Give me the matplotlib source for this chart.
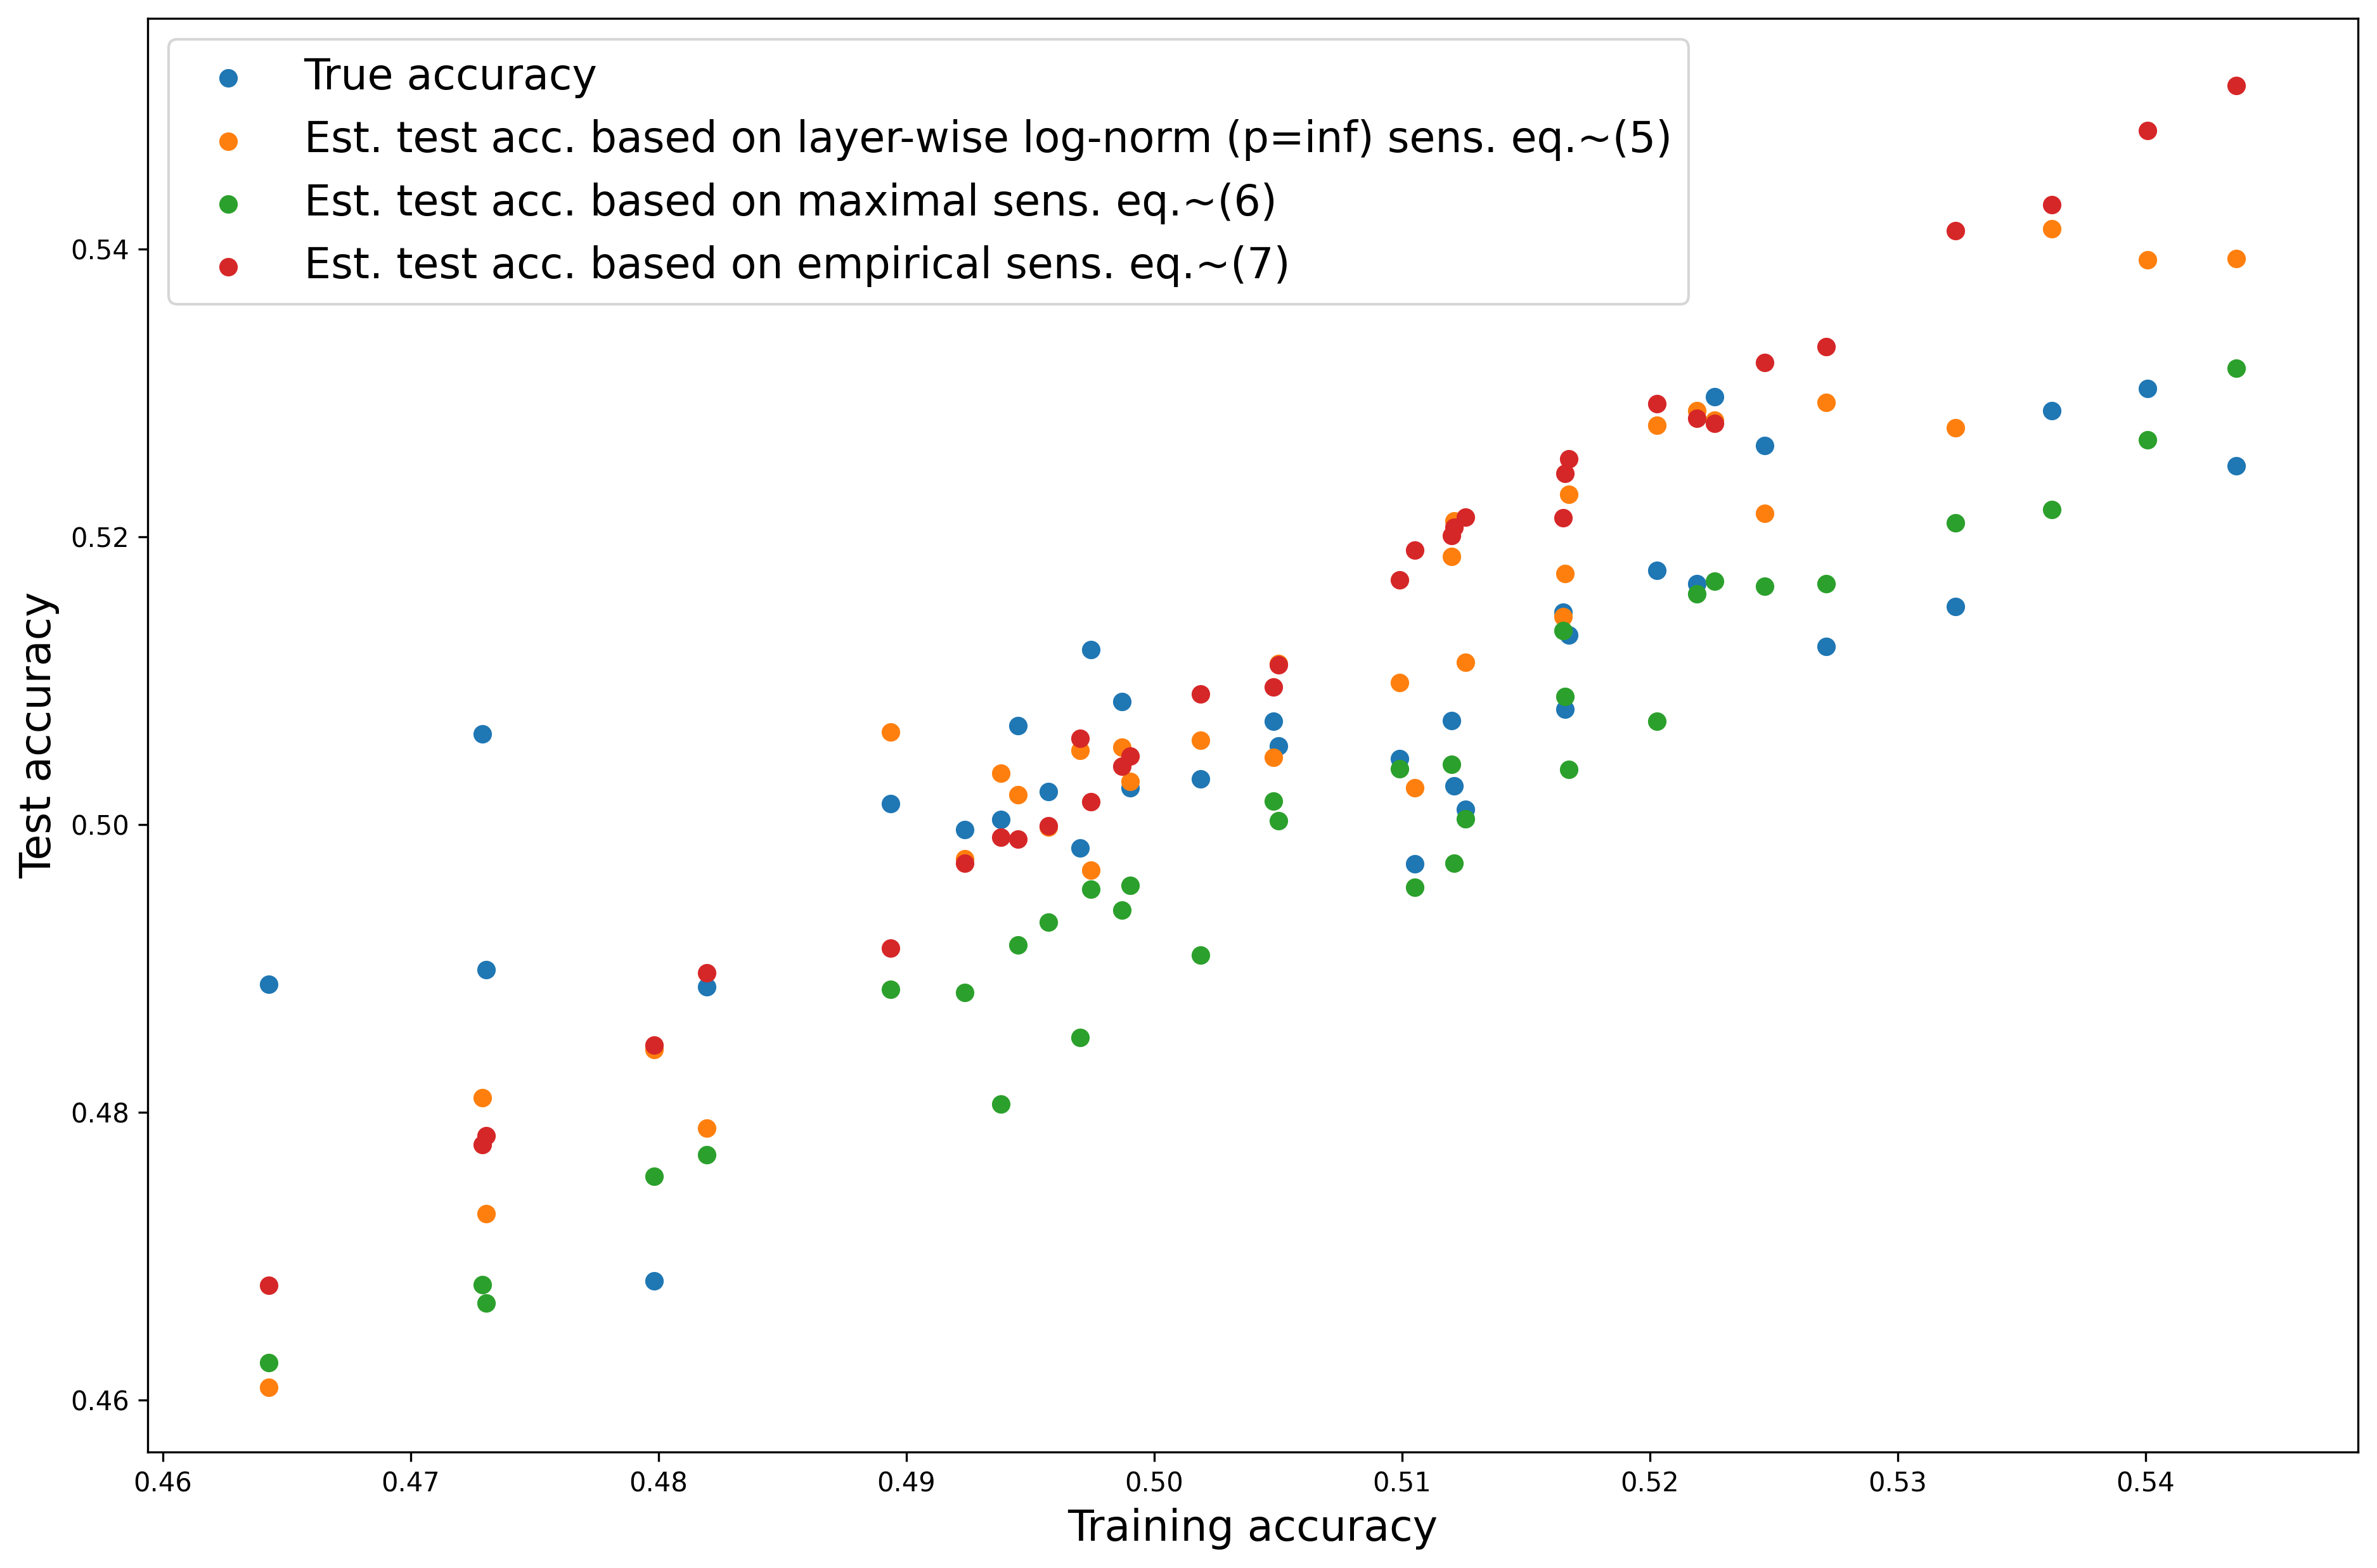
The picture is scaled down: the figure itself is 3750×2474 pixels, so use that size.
import matplotlib
matplotlib.use("Agg")
import matplotlib.pyplot as plt

# training accuracy (x) shared by all series
train_acc = [0.46428, 0.47290, 0.47305, 0.47982, 0.48196, 0.48937, 0.49235,
             0.49382, 0.49450, 0.49573, 0.49702, 0.49744, 0.49870, 0.49904,
             0.50186, 0.50481, 0.50503, 0.50990, 0.51051, 0.51200, 0.51211,
             0.51257, 0.51650, 0.51658, 0.51674, 0.52028, 0.52190, 0.52260,
             0.52464, 0.52711, 0.53232, 0.53622, 0.54008, 0.54366]

true_acc = [0.48889, 0.50629, 0.48991, 0.46826, 0.48870, 0.50145, 0.49963,
            0.50033, 0.50688, 0.50227, 0.49836, 0.51214, 0.50854, 0.50255,
            0.50317, 0.50716, 0.50545, 0.50457, 0.49726, 0.50724, 0.50270,
            0.50106, 0.51476, 0.50800, 0.51318, 0.51766, 0.51673, 0.52975,
            0.52635, 0.51238, 0.51516, 0.52878, 0.53034, 0.52494]

est_lognorm = [0.46088, 0.48099, 0.47294, 0.48435, 0.47887, 0.50643, 0.49760,
               0.50356, 0.50207, 0.49983, 0.50514, 0.49684, 0.50536, 0.50300,
               0.50584, 0.50469, 0.51120, 0.50986, 0.50254, 0.51862, 0.52112,
               0.51129, 0.51445, 0.51744, 0.52295, 0.52777, 0.52878, 0.52811,
               0.52165, 0.52935, 0.52758, 0.54141, 0.53926, 0.53934]

est_maximal = [0.46260, 0.46801, 0.46673, 0.47554, 0.47704, 0.48852, 0.48830,
               0.48057, 0.49162, 0.49319, 0.48518, 0.49550, 0.49404, 0.49575,
               0.49092, 0.50162, 0.50025, 0.50387, 0.49563, 0.50418, 0.49732,
               0.50038, 0.51349, 0.50891, 0.50381, 0.50718, 0.51606, 0.51692,
               0.51658, 0.51673, 0.52097, 0.52190, 0.52674, 0.53173]

est_empirical = [0.46797, 0.47773, 0.47835, 0.48464, 0.48969, 0.49139, 0.49730,
                 0.49912, 0.49898, 0.49990, 0.50601, 0.50157, 0.50404, 0.50474,
                 0.50907, 0.50955, 0.51110, 0.51700, 0.51908, 0.52010, 0.52068,
                 0.52137, 0.52131, 0.52440, 0.52542, 0.52927, 0.52824, 0.52790,
                 0.53212, 0.53322, 0.54129, 0.54312, 0.54826, 0.55139]

labels = ["True accuracy",
          "Est. test acc. based on layer-wise log-norm (p=inf) sens. eq.~(5)",
          "Est. test acc. based on maximal sens. eq.~(6)",
          "Est. test acc. based on empirical sens. eq.~(7)"]

fig = plt.figure(figsize=(12.5, 8.2467), dpi=300)
ax = fig.add_axes([0.0621, 0.0740, 0.9299, 0.9143])

for ys, lab in zip([true_acc, est_lognorm, est_maximal, est_empirical], labels):
    ax.scatter(train_acc, ys, label=lab)

ax.set_xlim(0.45939, 0.54857)
ax.set_ylim(0.45637, 0.55606)
ax.set_xticks([0.46, 0.47, 0.48, 0.49, 0.50, 0.51, 0.52, 0.53, 0.54])
ax.set_yticks([0.46, 0.48, 0.50, 0.52, 0.54])
ax.set_xlabel("Training accuracy", fontsize=16)
ax.set_ylabel("Test accuracy", fontsize=16)
ax.legend(loc="upper left", fontsize=16)

fig.savefig("out.png", dpi=300)
